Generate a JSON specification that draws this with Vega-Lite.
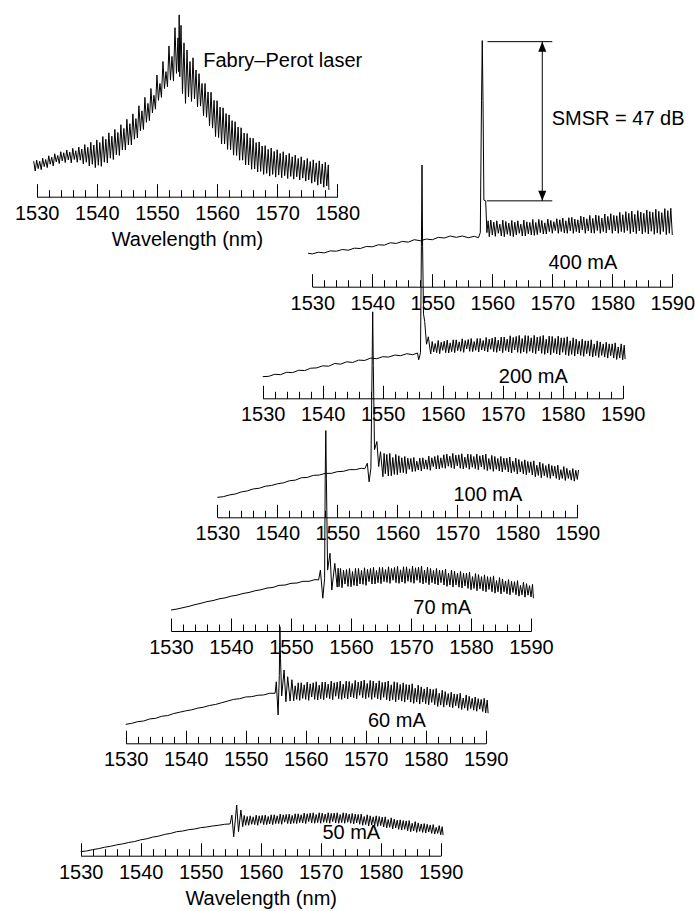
{
"$schema":"https://vega.github.io/schema/vega-lite/v6.json",
"width":695,"height":911,"autosize":{"type":"none"},"padding":0,
"config":{"view":{"stroke":null},
"axis":{"grid":false,"domainColor":"black","domainWidth":1,"tickColor":"black","tickWidth":1,"labelColor":"black","labelFont":"Liberation Sans","labelFontSize":20,"labelFlush":false,"labelOverlap":false,"labelBound":false,"titleFont":"Liberation Sans","titleFontSize":20,"titleFontWeight":"normal","titleColor":"black","titlePadding":0}},
"datasets":{
"fp":[{"w":1529.5,"v":10.5},{"w":1529.75,"v":7.6},{"w":1530.0,"v":10.8},{"w":1530.25,"v":8.3},{"w":1530.5,"v":10.5},{"w":1530.75,"v":8.0},{"w":1531.0,"v":11.4},{"w":1531.25,"v":8.9},{"w":1531.5,"v":11.0},{"w":1531.75,"v":8.6},{"w":1532.0,"v":12.1},{"w":1532.25,"v":9.6},{"w":1532.5,"v":11.7},{"w":1532.75,"v":9.1},{"w":1533.0,"v":12.7},{"w":1533.25,"v":10.3},{"w":1533.5,"v":12.2},{"w":1533.75,"v":9.8},{"w":1534.0,"v":13.3},{"w":1534.25,"v":10.6},{"w":1534.5,"v":13.0},{"w":1534.75,"v":10.1},{"w":1535.0,"v":13.8},{"w":1535.25,"v":10.9},{"w":1535.5,"v":13.2},{"w":1535.75,"v":10.0},{"w":1536.0,"v":14.3},{"w":1536.25,"v":11.0},{"w":1536.5,"v":13.6},{"w":1536.75,"v":10.2},{"w":1537.0,"v":14.7},{"w":1537.25,"v":10.8},{"w":1537.5,"v":14.1},{"w":1537.75,"v":9.7},{"w":1538.0,"v":15.4},{"w":1538.25,"v":10.2},{"w":1538.5,"v":14.6},{"w":1538.75,"v":9.1},{"w":1539.0,"v":16.1},{"w":1539.25,"v":9.6},{"w":1539.5,"v":15.3},{"w":1539.75,"v":8.6},{"w":1540.0,"v":16.8},{"w":1540.25,"v":9.3},{"w":1540.5,"v":16.0},{"w":1540.75,"v":9.0},{"w":1541.0,"v":17.8},{"w":1541.25,"v":10.2},{"w":1541.5,"v":17.0},{"w":1541.75,"v":10.0},{"w":1542.0,"v":18.9},{"w":1542.25,"v":11.4},{"w":1542.5,"v":17.9},{"w":1542.75,"v":11.0},{"w":1543.0,"v":19.9},{"w":1543.25,"v":12.4},{"w":1543.5,"v":19.0},{"w":1543.75,"v":12.2},{"w":1544.0,"v":21.3},{"w":1544.25,"v":13.8},{"w":1544.5,"v":20.2},{"w":1544.75,"v":13.8},{"w":1545.0,"v":22.9},{"w":1545.25,"v":15.3},{"w":1545.5,"v":21.6},{"w":1545.75,"v":15.3},{"w":1546.0,"v":24.5},{"w":1546.25,"v":17.0},{"w":1546.5,"v":23.1},{"w":1546.75,"v":17.4},{"w":1547.0,"v":26.9},{"w":1547.25,"v":19.5},{"w":1547.5,"v":25.4},{"w":1547.75,"v":19.9},{"w":1548.0,"v":29.4},{"w":1548.25,"v":22.0},{"w":1548.5,"v":27.6},{"w":1548.75,"v":22.5},{"w":1549.0,"v":32.0},{"w":1549.25,"v":24.8},{"w":1549.5,"v":30.0},{"w":1549.75,"v":25.9},{"w":1550.0,"v":36.0},{"w":1550.25,"v":28.5},{"w":1550.5,"v":33.5},{"w":1550.75,"v":29.4},{"w":1551.0,"v":40.0},{"w":1551.25,"v":32.0},{"w":1551.5,"v":37.0},{"w":1551.75,"v":32.5},{"w":1552.0,"v":44.6},{"w":1552.25,"v":34.5},{"w":1552.5,"v":41.5},{"w":1552.75,"v":34.2},{"w":1553.0,"v":50.0},{"w":1553.25,"v":36.5},{"w":1553.5,"v":47.0},{"w":1553.6,"v":37.0},{"w":1553.7,"v":53.8},{"w":1553.8,"v":35.5},{"w":1554.0,"v":50.7},{"w":1554.25,"v":30.5},{"w":1554.5,"v":45.5},{"w":1554.75,"v":27.6},{"w":1555.0,"v":43.4},{"w":1555.25,"v":29.5},{"w":1555.5,"v":40.0},{"w":1555.75,"v":28.2},{"w":1556.0,"v":41.1},{"w":1556.25,"v":28.9},{"w":1556.5,"v":37.5},{"w":1556.75,"v":26.6},{"w":1557.0,"v":36.4},{"w":1557.25,"v":26.8},{"w":1557.5,"v":33.5},{"w":1557.75,"v":24.0},{"w":1558.0,"v":33.5},{"w":1558.25,"v":23.5},{"w":1558.5,"v":31.0},{"w":1558.75,"v":21.0},{"w":1559.0,"v":30.9},{"w":1559.25,"v":20.3},{"w":1559.5,"v":28.5},{"w":1559.75,"v":17.8},{"w":1560.0,"v":28.4},{"w":1560.25,"v":17.5},{"w":1560.5,"v":26.5},{"w":1560.75,"v":15.6},{"w":1561.0,"v":26.3},{"w":1561.25,"v":15.6},{"w":1561.5,"v":24.6},{"w":1561.75,"v":14.0},{"w":1562.0,"v":24.2},{"w":1562.25,"v":13.9},{"w":1562.5,"v":22.5},{"w":1562.75,"v":12.3},{"w":1563.0,"v":22.2},{"w":1563.25,"v":12.2},{"w":1563.5,"v":20.6},{"w":1563.75,"v":10.8},{"w":1564.0,"v":20.4},{"w":1564.25,"v":10.8},{"w":1564.5,"v":18.8},{"w":1564.75,"v":9.4},{"w":1565.0,"v":18.7},{"w":1565.25,"v":9.4},{"w":1565.5,"v":17.4},{"w":1565.75,"v":8.1},{"w":1566.0,"v":17.3},{"w":1566.25,"v":8.2},{"w":1566.5,"v":16.0},{"w":1566.75,"v":7.3},{"w":1567.0,"v":16.2},{"w":1567.25,"v":7.5},{"w":1567.5,"v":15.0},{"w":1567.75,"v":6.6},{"w":1568.0,"v":15.1},{"w":1568.25,"v":6.9},{"w":1568.5,"v":14.0},{"w":1568.75,"v":6.1},{"w":1569.0,"v":14.4},{"w":1569.25,"v":6.6},{"w":1569.5,"v":13.4},{"w":1569.75,"v":5.8},{"w":1570.0,"v":13.9},{"w":1570.25,"v":6.4},{"w":1570.5,"v":12.8},{"w":1570.75,"v":5.6},{"w":1571.0,"v":13.3},{"w":1571.25,"v":6.2},{"w":1571.5,"v":12.3},{"w":1571.75,"v":5.4},{"w":1572.0,"v":12.8},{"w":1572.25,"v":6.0},{"w":1572.5,"v":11.8},{"w":1572.75,"v":5.2},{"w":1573.0,"v":12.3},{"w":1573.25,"v":5.9},{"w":1573.5,"v":11.3},{"w":1573.75,"v":5.0},{"w":1574.0,"v":11.8},{"w":1574.25,"v":5.5},{"w":1574.5,"v":10.8},{"w":1574.75,"v":4.6},{"w":1575.0,"v":11.3},{"w":1575.25,"v":5.0},{"w":1575.5,"v":10.4},{"w":1575.75,"v":4.0},{"w":1576.0,"v":10.9},{"w":1576.25,"v":4.4},{"w":1576.5,"v":10.0},{"w":1576.75,"v":3.4},{"w":1577.0,"v":10.6},{"w":1577.25,"v":3.8},{"w":1577.5,"v":9.7},{"w":1577.75,"v":2.8},{"w":1578.0,"v":10.2},{"w":1578.25,"v":3.2},{"w":1578.5,"v":9.4},{"w":1578.6,"v":2.0}],
"s400":[{"w":1529.3,"v":9.9},{"w":1530,"v":9.7},{"w":1531,"v":10.2},{"w":1532,"v":10.0},{"w":1533,"v":10.6},{"w":1534,"v":10.5},{"w":1535,"v":11.0},{"w":1536,"v":10.8},{"w":1537,"v":11.4},{"w":1538,"v":11.3},{"w":1539,"v":11.9},{"w":1540,"v":11.8},{"w":1541,"v":12.4},{"w":1542,"v":12.3},{"w":1543,"v":13.0},{"w":1544,"v":12.8},{"w":1545,"v":13.4},{"w":1546,"v":13.2},{"w":1547,"v":13.9},{"w":1548,"v":13.6},{"w":1549,"v":14.1},{"w":1550,"v":13.9},{"w":1551,"v":14.6},{"w":1552,"v":14.4},{"w":1553,"v":15.0},{"w":1554,"v":14.6},{"w":1555,"v":15.0},{"w":1556,"v":14.5},{"w":1557,"v":14.9},{"w":1557.7,"v":14.5},{"w":1558.0,"v":16.0},{"w":1558.2,"v":55},{"w":1558.33,"v":72.8},{"w":1558.45,"v":55},{"w":1558.6,"v":25.6},{"w":1558.9,"v":25.4},{"w":1559.1,"v":16.0},{"w":1559.3,"v":19.5},{"w":1559.5,"v":14.8},{"w":1559.75,"v":19.7},{"w":1560.0,"v":15.3},{"w":1560.25,"v":19.1},{"w":1560.5,"v":14.9},{"w":1560.75,"v":19.5},{"w":1561.0,"v":15.8},{"w":1561.25,"v":18.5},{"w":1561.5,"v":15.0},{"w":1561.75,"v":19.7},{"w":1562.0,"v":14.8},{"w":1562.25,"v":19.3},{"w":1562.5,"v":15.5},{"w":1562.75,"v":18.8},{"w":1563.0,"v":15.1},{"w":1563.25,"v":19.6},{"w":1563.5,"v":14.8},{"w":1563.75,"v":19.1},{"w":1564.0,"v":15.3},{"w":1564.25,"v":19.5},{"w":1564.5,"v":15.8},{"w":1564.75,"v":18.5},{"w":1565.0,"v":15.0},{"w":1565.25,"v":19.7},{"w":1565.5,"v":15.0},{"w":1565.75,"v":19.2},{"w":1566.0,"v":15.6},{"w":1566.25,"v":19.0},{"w":1566.5,"v":15.3},{"w":1566.75,"v":19.9},{"w":1567.0,"v":15.2},{"w":1567.25,"v":19.0},{"w":1567.5,"v":15.4},{"w":1567.75,"v":19.9},{"w":1568.0,"v":16.0},{"w":1568.25,"v":19.6},{"w":1568.5,"v":15.6},{"w":1568.75,"v":18.9},{"w":1569.0,"v":15.6},{"w":1569.25,"v":20.0},{"w":1569.5,"v":16.3},{"w":1569.75,"v":19.6},{"w":1570.0,"v":15.8},{"w":1570.25,"v":19.2},{"w":1570.5,"v":16.6},{"w":1570.75,"v":20.1},{"w":1571.0,"v":15.8},{"w":1571.25,"v":19.8},{"w":1571.5,"v":16.3},{"w":1571.75,"v":20.3},{"w":1572.0,"v":15.9},{"w":1572.25,"v":19.5},{"w":1572.5,"v":15.8},{"w":1572.75,"v":20.4},{"w":1573.0,"v":16.5},{"w":1573.25,"v":20.5},{"w":1573.5,"v":15.8},{"w":1573.75,"v":20.0},{"w":1574.0,"v":16.3},{"w":1574.25,"v":19.8},{"w":1574.5,"v":15.9},{"w":1574.75,"v":20.9},{"w":1575.0,"v":16.8},{"w":1575.25,"v":20.6},{"w":1575.5,"v":15.8},{"w":1575.75,"v":20.1},{"w":1576.0,"v":16.5},{"w":1576.25,"v":21.1},{"w":1576.5,"v":15.9},{"w":1576.75,"v":20.2},{"w":1577.0,"v":15.8},{"w":1577.25,"v":21.2},{"w":1577.5,"v":16.6},{"w":1577.75,"v":21.0},{"w":1578.0,"v":15.8},{"w":1578.25,"v":20.3},{"w":1578.5,"v":16.3},{"w":1578.75,"v":21.5},{"w":1579.0,"v":15.9},{"w":1579.25,"v":20.8},{"w":1579.5,"v":16.8},{"w":1579.75,"v":21.6},{"w":1580.0,"v":15.8},{"w":1580.25,"v":21.1},{"w":1580.5,"v":16.5},{"w":1580.75,"v":21.0},{"w":1581.0,"v":15.8},{"w":1581.25,"v":22.0},{"w":1581.5,"v":16.3},{"w":1581.75,"v":21.3},{"w":1582.0,"v":16.0},{"w":1582.25,"v":22.2},{"w":1582.5,"v":16.6},{"w":1582.75,"v":21.7},{"w":1583.0,"v":15.7},{"w":1583.25,"v":22.4},{"w":1583.5,"v":16.2},{"w":1583.75,"v":21.4},{"w":1584.0,"v":15.7},{"w":1584.25,"v":22.5},{"w":1584.5,"v":16.5},{"w":1584.75,"v":22.1},{"w":1585.0,"v":15.6},{"w":1585.25,"v":21.7},{"w":1585.5,"v":16.1},{"w":1585.75,"v":22.7},{"w":1586.0,"v":15.6},{"w":1586.25,"v":22.2},{"w":1586.5,"v":16.4},{"w":1586.75,"v":22.0},{"w":1587.0,"v":15.5},{"w":1587.25,"v":22.9},{"w":1587.5,"v":15.9},{"w":1587.75,"v":22.3},{"w":1588.0,"v":15.5},{"w":1588.25,"v":21.9},{"w":1588.5,"v":16.3},{"w":1588.75,"v":23.1},{"w":1589.0,"v":15.4},{"w":1589.25,"v":22.5},{"w":1589.5,"v":15.8},{"w":1589.75,"v":23.2},{"w":1590.0,"v":15.3}],
"s200":[{"w":1530,"v":6.4},{"w":1531,"v":6.5},{"w":1532,"v":7.1},{"w":1533,"v":7.0},{"w":1534,"v":7.7},{"w":1535,"v":7.6},{"w":1536,"v":8.3},{"w":1537,"v":8.2},{"w":1538,"v":8.9},{"w":1539,"v":9.0},{"w":1540,"v":9.6},{"w":1541,"v":9.5},{"w":1542,"v":10.3},{"w":1543,"v":10.1},{"w":1544,"v":10.8},{"w":1545,"v":10.6},{"w":1546,"v":11.3},{"w":1547,"v":11.2},{"w":1548,"v":11.9},{"w":1549,"v":11.7},{"w":1550,"v":12.3},{"w":1551,"v":12.2},{"w":1552,"v":12.8},{"w":1553,"v":12.6},{"w":1554,"v":13.2},{"w":1555,"v":12.9},{"w":1555.8,"v":13.4},{"w":1556.0,"v":11.4},{"w":1556.3,"v":13.5},{"w":1556.45,"v":45},{"w":1556.55,"v":69.0},{"w":1556.65,"v":45},{"w":1556.8,"v":25},{"w":1557.0,"v":22.7},{"w":1557.3,"v":16},{"w":1557.6,"v":18.2},{"w":1558.0,"v":13.1},{"w":1558.25,"v":16.8},{"w":1558.5,"v":13.7},{"w":1558.75,"v":16.2},{"w":1559.0,"v":13.5},{"w":1559.25,"v":17.1},{"w":1559.5,"v":13.2},{"w":1559.75,"v":16.6},{"w":1560.0,"v":14.2},{"w":1560.25,"v":16.9},{"w":1560.5,"v":13.5},{"w":1560.75,"v":17.2},{"w":1561.0,"v":13.4},{"w":1561.25,"v":16.4},{"w":1561.5,"v":13.8},{"w":1561.75,"v":17.3},{"w":1562.0,"v":13.5},{"w":1562.25,"v":17.3},{"w":1562.5,"v":14.1},{"w":1562.75,"v":16.7},{"w":1563.0,"v":13.9},{"w":1563.25,"v":17.6},{"w":1563.5,"v":13.6},{"w":1563.75,"v":17.1},{"w":1564.0,"v":14.6},{"w":1564.25,"v":17.4},{"w":1564.5,"v":13.9},{"w":1564.75,"v":17.7},{"w":1565.0,"v":13.8},{"w":1565.25,"v":16.8},{"w":1565.5,"v":14.2},{"w":1565.75,"v":17.7},{"w":1566.0,"v":13.7},{"w":1566.25,"v":17.7},{"w":1566.5,"v":14.3},{"w":1566.75,"v":17.1},{"w":1567.0,"v":14.0},{"w":1567.25,"v":18.0},{"w":1567.5,"v":13.7},{"w":1567.75,"v":17.5},{"w":1568.0,"v":14.5},{"w":1568.25,"v":17.8},{"w":1568.5,"v":13.8},{"w":1568.75,"v":18.1},{"w":1569.0,"v":13.6},{"w":1569.25,"v":17.2},{"w":1569.5,"v":14.0},{"w":1569.75,"v":18.1},{"w":1570.0,"v":13.5},{"w":1570.25,"v":18.1},{"w":1570.5,"v":14.1},{"w":1570.75,"v":17.5},{"w":1571.0,"v":13.7},{"w":1571.25,"v":18.5},{"w":1571.5,"v":13.4},{"w":1571.75,"v":18.0},{"w":1572.0,"v":14.3},{"w":1572.25,"v":18.3},{"w":1572.5,"v":13.6},{"w":1572.75,"v":18.6},{"w":1573.0,"v":13.3},{"w":1573.25,"v":17.7},{"w":1573.5,"v":13.7},{"w":1573.75,"v":18.6},{"w":1574.0,"v":13.3},{"w":1574.25,"v":18.5},{"w":1574.5,"v":13.9},{"w":1574.75,"v":17.9},{"w":1575.0,"v":13.5},{"w":1575.25,"v":18.6},{"w":1575.5,"v":13.2},{"w":1575.75,"v":18.1},{"w":1576.0,"v":14.0},{"w":1576.25,"v":18.3},{"w":1576.5,"v":13.3},{"w":1576.75,"v":18.6},{"w":1577.0,"v":13.0},{"w":1577.25,"v":17.5},{"w":1577.5,"v":13.4},{"w":1577.75,"v":18.4},{"w":1578.0,"v":12.9},{"w":1578.25,"v":18.3},{"w":1578.5,"v":13.5},{"w":1578.75,"v":17.7},{"w":1579.0,"v":13.1},{"w":1579.25,"v":18.4},{"w":1579.5,"v":12.8},{"w":1579.75,"v":17.9},{"w":1580.0,"v":13.6},{"w":1580.25,"v":17.9},{"w":1580.5,"v":12.9},{"w":1580.75,"v":18.2},{"w":1581.0,"v":12.6},{"w":1581.25,"v":17.0},{"w":1581.5,"v":13.0},{"w":1581.75,"v":17.9},{"w":1582.0,"v":12.5},{"w":1582.25,"v":17.5},{"w":1582.5,"v":13.1},{"w":1582.75,"v":16.9},{"w":1583.0,"v":12.7},{"w":1583.25,"v":17.5},{"w":1583.5,"v":12.4},{"w":1583.75,"v":17.0},{"w":1584.0,"v":13.2},{"w":1584.25,"v":17.0},{"w":1584.5,"v":12.5},{"w":1584.75,"v":17.3},{"w":1585.0,"v":12.2},{"w":1585.25,"v":16.1},{"w":1585.5,"v":12.6},{"w":1585.75,"v":17.0},{"w":1586.0,"v":12.1},{"w":1586.25,"v":16.7},{"w":1586.5,"v":12.7},{"w":1586.75,"v":16.1},{"w":1587.0,"v":12.2},{"w":1587.25,"v":16.6},{"w":1587.5,"v":11.9},{"w":1587.75,"v":16.1},{"w":1588.0,"v":12.6},{"w":1588.25,"v":16.1},{"w":1588.5,"v":11.9},{"w":1588.75,"v":16.4},{"w":1589.0,"v":11.5},{"w":1589.25,"v":15.2},{"w":1589.5,"v":11.9},{"w":1589.75,"v":16.1},{"w":1590.0,"v":11.4},{"w":1590.25,"v":15.7},{"w":1590.4,"v":11.6}],
"s100":[{"w":1530,"v":5.9},{"w":1531,"v":6.1},{"w":1532,"v":6.6},{"w":1533,"v":6.9},{"w":1534,"v":7.5},{"w":1535,"v":7.8},{"w":1536,"v":8.4},{"w":1537,"v":8.6},{"w":1538,"v":9.2},{"w":1539,"v":9.4},{"w":1540,"v":9.9},{"w":1541,"v":10.2},{"w":1542,"v":10.8},{"w":1543,"v":11.0},{"w":1544,"v":11.7},{"w":1545,"v":11.8},{"w":1546,"v":12.4},{"w":1547,"v":12.5},{"w":1548,"v":13.0},{"w":1549,"v":13.0},{"w":1550,"v":13.5},{"w":1551,"v":13.6},{"w":1552,"v":14.1},{"w":1553,"v":14.1},{"w":1554,"v":14.5},{"w":1554.6,"v":14.4},{"w":1555.0,"v":16.0},{"w":1555.3,"v":10.5},{"w":1555.6,"v":14.5},{"w":1555.8,"v":45},{"w":1555.9,"v":60.8},{"w":1556.0,"v":45},{"w":1556.2,"v":20},{"w":1556.6,"v":22.4},{"w":1556.9,"v":15},{"w":1557.2,"v":19.4},{"w":1557.6,"v":12.0},{"w":1557.8,"v":18.9},{"w":1558.0,"v":12.9},{"w":1558.25,"v":18.6},{"w":1558.5,"v":12.2},{"w":1558.75,"v":18.9},{"w":1559.0,"v":12.3},{"w":1559.25,"v":17.7},{"w":1559.5,"v":12.7},{"w":1559.75,"v":18.6},{"w":1560.0,"v":12.6},{"w":1560.25,"v":18.2},{"w":1560.5,"v":13.2},{"w":1560.75,"v":17.6},{"w":1561.0,"v":13.2},{"w":1561.25,"v":18.0},{"w":1561.5,"v":12.9},{"w":1561.75,"v":17.5},{"w":1562.0,"v":14.2},{"w":1562.25,"v":17.4},{"w":1562.5,"v":13.5},{"w":1562.75,"v":17.7},{"w":1563.0,"v":13.6},{"w":1563.25,"v":16.6},{"w":1563.5,"v":14.0},{"w":1563.75,"v":17.5},{"w":1564.0,"v":13.7},{"w":1564.25,"v":17.6},{"w":1564.5,"v":14.3},{"w":1564.75,"v":17.0},{"w":1565.0,"v":14.2},{"w":1565.25,"v":18.1},{"w":1565.5,"v":13.9},{"w":1565.75,"v":17.6},{"w":1566.0,"v":15.0},{"w":1566.25,"v":18.0},{"w":1566.5,"v":14.3},{"w":1566.75,"v":18.3},{"w":1567.0,"v":14.3},{"w":1567.25,"v":17.6},{"w":1567.5,"v":14.7},{"w":1567.75,"v":18.5},{"w":1568.0,"v":14.5},{"w":1568.25,"v":18.7},{"w":1568.5,"v":15.1},{"w":1568.75,"v":18.1},{"w":1569.0,"v":14.7},{"w":1569.25,"v":18.9},{"w":1569.5,"v":14.4},{"w":1569.75,"v":18.4},{"w":1570.0,"v":15.2},{"w":1570.25,"v":18.5},{"w":1570.5,"v":14.5},{"w":1570.75,"v":18.8},{"w":1571.0,"v":14.3},{"w":1571.25,"v":17.8},{"w":1571.5,"v":14.7},{"w":1571.75,"v":18.7},{"w":1572.0,"v":14.2},{"w":1572.25,"v":18.6},{"w":1572.5,"v":14.8},{"w":1572.75,"v":18.0},{"w":1573.0,"v":14.4},{"w":1573.25,"v":18.7},{"w":1573.5,"v":14.1},{"w":1573.75,"v":18.2},{"w":1574.0,"v":14.9},{"w":1574.25,"v":18.4},{"w":1574.5,"v":14.2},{"w":1574.75,"v":18.7},{"w":1575.0,"v":13.8},{"w":1575.25,"v":17.4},{"w":1575.5,"v":14.2},{"w":1575.75,"v":18.3},{"w":1576.0,"v":13.6},{"w":1576.25,"v":18.0},{"w":1576.5,"v":14.2},{"w":1576.75,"v":17.4},{"w":1577.0,"v":13.7},{"w":1577.25,"v":18.0},{"w":1577.5,"v":13.4},{"w":1577.75,"v":17.5},{"w":1578.0,"v":14.1},{"w":1578.25,"v":17.5},{"w":1578.5,"v":13.4},{"w":1578.75,"v":17.8},{"w":1579.0,"v":13.1},{"w":1579.25,"v":16.6},{"w":1579.5,"v":13.5},{"w":1579.75,"v":17.5},{"w":1580.0,"v":12.8},{"w":1580.25,"v":17.1},{"w":1580.5,"v":13.4},{"w":1580.75,"v":16.5},{"w":1581.0,"v":12.9},{"w":1581.25,"v":17.0},{"w":1581.5,"v":12.6},{"w":1581.75,"v":16.5},{"w":1582.0,"v":13.2},{"w":1582.25,"v":16.4},{"w":1582.5,"v":12.5},{"w":1582.75,"v":16.7},{"w":1583.0,"v":12.0},{"w":1583.25,"v":15.4},{"w":1583.5,"v":12.4},{"w":1583.75,"v":16.3},{"w":1584.0,"v":11.7},{"w":1584.25,"v":15.9},{"w":1584.5,"v":12.3},{"w":1584.75,"v":15.3},{"w":1585.0,"v":11.8},{"w":1585.25,"v":15.8},{"w":1585.5,"v":11.5},{"w":1585.75,"v":15.3},{"w":1586.0,"v":12.2},{"w":1586.25,"v":15.1},{"w":1586.5,"v":11.5},{"w":1586.75,"v":15.4},{"w":1587.0,"v":11.1},{"w":1587.25,"v":14.1},{"w":1587.5,"v":11.5},{"w":1587.75,"v":15.0},{"w":1588.0,"v":10.9},{"w":1588.25,"v":14.5},{"w":1588.5,"v":11.5},{"w":1588.75,"v":13.9},{"w":1589.0,"v":11.0},{"w":1589.25,"v":14.4},{"w":1589.5,"v":10.7},{"w":1589.75,"v":13.9},{"w":1590.0,"v":11.2},{"w":1590.2,"v":14.0}],
"s70":[{"w":1530,"v":6.2},{"w":1531,"v":6.5},{"w":1532,"v":6.9},{"w":1533,"v":7.3},{"w":1534,"v":7.8},{"w":1535,"v":8.2},{"w":1536,"v":8.7},{"w":1537,"v":9.0},{"w":1538,"v":9.5},{"w":1539,"v":9.8},{"w":1540,"v":10.3},{"w":1541,"v":10.6},{"w":1542,"v":11.1},{"w":1543,"v":11.4},{"w":1544,"v":11.9},{"w":1545,"v":12.2},{"w":1546,"v":12.7},{"w":1547,"v":12.9},{"w":1548,"v":13.5},{"w":1549,"v":13.6},{"w":1550,"v":14.1},{"w":1551,"v":14.2},{"w":1552,"v":14.7},{"w":1553,"v":14.7},{"w":1554,"v":15.2},{"w":1554.6,"v":15.1},{"w":1554.9,"v":18.0},{"w":1555.3,"v":9.7},{"w":1555.6,"v":15.5},{"w":1555.7,"v":45},{"w":1555.8,"v":59.3},{"w":1555.9,"v":45},{"w":1556.1,"v":18},{"w":1556.5,"v":23.0},{"w":1556.8,"v":12.1},{"w":1557.3,"v":20.0},{"w":1557.7,"v":13.0},{"w":1557.85,"v":18.6},{"w":1558.0,"v":13.1},{"w":1558.25,"v":18.5},{"w":1558.5,"v":12.8},{"w":1558.75,"v":18.0},{"w":1559.0,"v":13.9},{"w":1559.25,"v":18.2},{"w":1559.5,"v":13.2},{"w":1559.75,"v":18.5},{"w":1560.0,"v":13.1},{"w":1560.25,"v":17.6},{"w":1560.5,"v":13.5},{"w":1560.75,"v":18.5},{"w":1561.0,"v":13.3},{"w":1561.25,"v":18.5},{"w":1561.5,"v":13.9},{"w":1561.75,"v":17.9},{"w":1562.0,"v":13.8},{"w":1562.25,"v":18.7},{"w":1562.5,"v":13.5},{"w":1562.75,"v":18.2},{"w":1563.0,"v":14.6},{"w":1563.25,"v":18.5},{"w":1563.5,"v":13.9},{"w":1563.75,"v":18.8},{"w":1564.0,"v":13.9},{"w":1564.25,"v":17.9},{"w":1564.5,"v":14.3},{"w":1564.75,"v":18.8},{"w":1565.0,"v":14.0},{"w":1565.25,"v":18.8},{"w":1565.5,"v":14.6},{"w":1565.75,"v":18.2},{"w":1566.0,"v":14.4},{"w":1566.25,"v":19.0},{"w":1566.5,"v":14.1},{"w":1566.75,"v":18.5},{"w":1567.0,"v":15.0},{"w":1567.25,"v":18.8},{"w":1567.5,"v":14.3},{"w":1567.75,"v":19.1},{"w":1568.0,"v":14.1},{"w":1568.25,"v":18.1},{"w":1568.5,"v":14.5},{"w":1568.75,"v":19.0},{"w":1569.0,"v":14.1},{"w":1569.25,"v":19.0},{"w":1569.5,"v":14.7},{"w":1569.75,"v":18.4},{"w":1570.0,"v":14.4},{"w":1570.25,"v":19.2},{"w":1570.5,"v":14.1},{"w":1570.75,"v":18.7},{"w":1571.0,"v":15.0},{"w":1571.25,"v":18.9},{"w":1571.5,"v":14.3},{"w":1571.75,"v":19.2},{"w":1572.0,"v":13.9},{"w":1572.25,"v":18.0},{"w":1572.5,"v":14.3},{"w":1572.75,"v":18.9},{"w":1573.0,"v":13.7},{"w":1573.25,"v":18.5},{"w":1573.5,"v":14.3},{"w":1573.75,"v":17.9},{"w":1574.0,"v":13.9},{"w":1574.25,"v":18.5},{"w":1574.5,"v":13.6},{"w":1574.75,"v":18.0},{"w":1575.0,"v":14.3},{"w":1575.25,"v":18.0},{"w":1575.5,"v":13.6},{"w":1575.75,"v":18.3},{"w":1576.0,"v":13.2},{"w":1576.25,"v":17.1},{"w":1576.5,"v":13.6},{"w":1576.75,"v":18.0},{"w":1577.0,"v":13.0},{"w":1577.25,"v":17.7},{"w":1577.5,"v":13.6},{"w":1577.75,"v":17.1},{"w":1578.0,"v":13.0},{"w":1578.25,"v":17.6},{"w":1578.5,"v":12.7},{"w":1578.75,"v":17.1},{"w":1579.0,"v":13.3},{"w":1579.25,"v":17.1},{"w":1579.5,"v":12.6},{"w":1579.75,"v":17.4},{"w":1580.0,"v":12.2},{"w":1580.25,"v":16.1},{"w":1580.5,"v":12.6},{"w":1580.75,"v":17.0},{"w":1581.0,"v":11.9},{"w":1581.25,"v":16.7},{"w":1581.5,"v":12.5},{"w":1581.75,"v":16.1},{"w":1582.0,"v":11.9},{"w":1582.25,"v":16.6},{"w":1582.5,"v":11.6},{"w":1582.75,"v":16.1},{"w":1583.0,"v":12.3},{"w":1583.25,"v":16.0},{"w":1583.5,"v":11.6},{"w":1583.75,"v":16.3},{"w":1584.0,"v":11.2},{"w":1584.25,"v":14.9},{"w":1584.5,"v":11.6},{"w":1584.75,"v":15.8},{"w":1585.0,"v":11.0},{"w":1585.25,"v":15.4},{"w":1585.5,"v":11.6},{"w":1585.75,"v":14.8},{"w":1586.0,"v":11.0},{"w":1586.25,"v":15.2},{"w":1586.5,"v":10.7},{"w":1586.75,"v":14.7},{"w":1587.0,"v":11.4},{"w":1587.25,"v":14.6},{"w":1587.5,"v":10.7},{"w":1587.75,"v":14.9},{"w":1588.0,"v":10.3},{"w":1588.25,"v":13.5},{"w":1588.5,"v":10.7},{"w":1588.75,"v":14.4},{"w":1589.0,"v":10.0},{"w":1589.25,"v":14.0},{"w":1589.5,"v":10.6},{"w":1589.75,"v":13.4},{"w":1590.0,"v":10.1},{"w":1590.25,"v":13.8},{"w":1590.4,"v":9.7}],
"s60":[{"w":1530,"v":5.6},{"w":1531,"v":5.9},{"w":1532,"v":6.4},{"w":1533,"v":6.6},{"w":1534,"v":7.2},{"w":1535,"v":7.4},{"w":1536,"v":8.0},{"w":1537,"v":8.2},{"w":1538,"v":8.8},{"w":1539,"v":9.2},{"w":1540,"v":9.6},{"w":1541,"v":9.9},{"w":1542,"v":10.4},{"w":1543,"v":10.7},{"w":1544,"v":11.2},{"w":1545,"v":11.5},{"w":1546,"v":12.0},{"w":1547,"v":12.5},{"w":1548,"v":13.0},{"w":1549,"v":13.2},{"w":1550,"v":13.7},{"w":1551,"v":13.8},{"w":1552,"v":14.2},{"w":1553,"v":14.3},{"w":1554,"v":14.8},{"w":1554.9,"v":14.8},{"w":1555.1,"v":18.2},{"w":1555.4,"v":8.4},{"w":1555.6,"v":20},{"w":1555.7,"v":34.5},{"w":1555.8,"v":25},{"w":1556.0,"v":14},{"w":1556.4,"v":21.7},{"w":1556.7,"v":12.3},{"w":1557.0,"v":19.7},{"w":1557.4,"v":12.5},{"w":1557.7,"v":18.8},{"w":1558.0,"v":12.6},{"w":1558.25,"v":17.0},{"w":1558.5,"v":13.0},{"w":1558.75,"v":17.9},{"w":1559.0,"v":12.7},{"w":1559.25,"v":17.9},{"w":1559.5,"v":13.3},{"w":1559.75,"v":17.3},{"w":1560.0,"v":13.0},{"w":1560.25,"v":18.1},{"w":1560.5,"v":12.7},{"w":1560.75,"v":17.6},{"w":1561.0,"v":13.7},{"w":1561.25,"v":17.9},{"w":1561.5,"v":13.0},{"w":1561.75,"v":18.2},{"w":1562.0,"v":12.8},{"w":1562.25,"v":17.2},{"w":1562.5,"v":13.2},{"w":1562.75,"v":18.1},{"w":1563.0,"v":12.9},{"w":1563.25,"v":18.1},{"w":1563.5,"v":13.5},{"w":1563.75,"v":17.5},{"w":1564.0,"v":13.2},{"w":1564.25,"v":18.4},{"w":1564.5,"v":12.9},{"w":1564.75,"v":17.9},{"w":1565.0,"v":13.9},{"w":1565.25,"v":18.1},{"w":1565.5,"v":13.2},{"w":1565.75,"v":18.4},{"w":1566.0,"v":13.0},{"w":1566.25,"v":17.5},{"w":1566.5,"v":13.4},{"w":1566.75,"v":18.4},{"w":1567.0,"v":13.1},{"w":1567.25,"v":18.3},{"w":1567.5,"v":13.7},{"w":1567.75,"v":17.7},{"w":1568.0,"v":13.5},{"w":1568.25,"v":18.6},{"w":1568.5,"v":13.2},{"w":1568.75,"v":18.1},{"w":1569.0,"v":14.2},{"w":1569.25,"v":18.4},{"w":1569.5,"v":13.5},{"w":1569.75,"v":18.7},{"w":1570.0,"v":13.2},{"w":1570.25,"v":17.7},{"w":1570.5,"v":13.6},{"w":1570.75,"v":18.6},{"w":1571.0,"v":13.0},{"w":1571.25,"v":18.4},{"w":1571.5,"v":13.6},{"w":1571.75,"v":17.8},{"w":1572.0,"v":13.2},{"w":1572.25,"v":18.5},{"w":1572.5,"v":12.9},{"w":1572.75,"v":18.0},{"w":1573.0,"v":13.6},{"w":1573.25,"v":18.1},{"w":1573.5,"v":12.9},{"w":1573.75,"v":18.4},{"w":1574.0,"v":12.5},{"w":1574.25,"v":17.3},{"w":1574.5,"v":12.9},{"w":1574.75,"v":18.2},{"w":1575.0,"v":12.3},{"w":1575.25,"v":18.0},{"w":1575.5,"v":12.9},{"w":1575.75,"v":17.4},{"w":1576.0,"v":12.5},{"w":1576.25,"v":17.9},{"w":1576.5,"v":12.2},{"w":1576.75,"v":17.4},{"w":1577.0,"v":12.9},{"w":1577.25,"v":17.3},{"w":1577.5,"v":12.2},{"w":1577.75,"v":17.6},{"w":1578.0,"v":11.8},{"w":1578.25,"v":16.3},{"w":1578.5,"v":12.2},{"w":1578.75,"v":17.2},{"w":1579.0,"v":11.6},{"w":1579.25,"v":16.7},{"w":1579.5,"v":12.2},{"w":1579.75,"v":16.1},{"w":1580.0,"v":11.7},{"w":1580.25,"v":16.6},{"w":1580.5,"v":11.4},{"w":1580.75,"v":16.1},{"w":1581.0,"v":12.1},{"w":1581.25,"v":15.9},{"w":1581.5,"v":11.4},{"w":1581.75,"v":16.2},{"w":1582.0,"v":10.9},{"w":1582.25,"v":14.8},{"w":1582.5,"v":11.3},{"w":1582.75,"v":15.7},{"w":1583.0,"v":10.7},{"w":1583.25,"v":15.3},{"w":1583.5,"v":11.3},{"w":1583.75,"v":14.7},{"w":1584.0,"v":10.8},{"w":1584.25,"v":15.1},{"w":1584.5,"v":10.5},{"w":1584.75,"v":14.6},{"w":1585.0,"v":11.1},{"w":1585.25,"v":14.5},{"w":1585.5,"v":10.4},{"w":1585.75,"v":14.8},{"w":1586.0,"v":10.0},{"w":1586.25,"v":13.4},{"w":1586.5,"v":10.4},{"w":1586.75,"v":14.3},{"w":1587.0,"v":9.7},{"w":1587.25,"v":13.9},{"w":1587.5,"v":10.3},{"w":1587.75,"v":13.3},{"w":1588.0,"v":9.8},{"w":1588.25,"v":13.7},{"w":1588.5,"v":9.5},{"w":1588.75,"v":13.2},{"w":1589.0,"v":10.1},{"w":1589.25,"v":13.0},{"w":1589.5,"v":9.4},{"w":1589.75,"v":13.3},{"w":1590.0,"v":9.0},{"w":1590.25,"v":12.8},{"w":1590.4,"v":8.9}],
"s50":[{"w":1530,"v":1.2},{"w":1531,"v":1.4},{"w":1532,"v":1.8},{"w":1533,"v":2.1},{"w":1534,"v":2.5},{"w":1535,"v":2.8},{"w":1536,"v":3.2},{"w":1537,"v":3.5},{"w":1538,"v":3.9},{"w":1539,"v":4.2},{"w":1540,"v":4.7},{"w":1541,"v":5.0},{"w":1542,"v":5.5},{"w":1543,"v":5.8},{"w":1544,"v":6.3},{"w":1545,"v":6.6},{"w":1546,"v":7.1},{"w":1547,"v":7.3},{"w":1548,"v":7.7},{"w":1549,"v":7.9},{"w":1550,"v":8.3},{"w":1551,"v":8.5},{"w":1552,"v":8.8},{"w":1553,"v":9.0},{"w":1554,"v":9.3},{"w":1554.9,"v":9.4},{"w":1555.2,"v":12.0},{"w":1555.5,"v":5.6},{"w":1556.0,"v":15.0},{"w":1556.3,"v":7.1},{"w":1556.7,"v":13.5},{"w":1557.0,"v":8.6},{"w":1557.25,"v":11.9},{"w":1557.5,"v":9.0},{"w":1557.75,"v":11.6},{"w":1558.0,"v":9.0},{"w":1558.25,"v":11.8},{"w":1558.5,"v":9.3},{"w":1558.75,"v":11.5},{"w":1559.0,"v":9.2},{"w":1559.25,"v":12.0},{"w":1559.5,"v":9.0},{"w":1559.75,"v":11.8},{"w":1560.0,"v":9.6},{"w":1560.25,"v":11.9},{"w":1560.5,"v":9.2},{"w":1560.75,"v":12.0},{"w":1561.0,"v":9.2},{"w":1561.25,"v":11.6},{"w":1561.5,"v":9.4},{"w":1561.75,"v":12.1},{"w":1562.0,"v":9.2},{"w":1562.25,"v":12.1},{"w":1562.5,"v":9.5},{"w":1562.75,"v":11.8},{"w":1563.0,"v":9.5},{"w":1563.25,"v":12.3},{"w":1563.5,"v":9.3},{"w":1563.75,"v":12.1},{"w":1564.0,"v":9.9},{"w":1564.25,"v":12.2},{"w":1564.5,"v":9.5},{"w":1564.75,"v":12.3},{"w":1565.0,"v":9.4},{"w":1565.25,"v":11.9},{"w":1565.5,"v":9.6},{"w":1565.75,"v":12.4},{"w":1566.0,"v":9.5},{"w":1566.25,"v":12.4},{"w":1566.5,"v":9.8},{"w":1566.75,"v":12.1},{"w":1567.0,"v":9.7},{"w":1567.25,"v":12.6},{"w":1567.5,"v":9.5},{"w":1567.75,"v":12.4},{"w":1568.0,"v":10.1},{"w":1568.25,"v":12.6},{"w":1568.5,"v":9.7},{"w":1568.75,"v":12.7},{"w":1569.0,"v":9.6},{"w":1569.25,"v":12.2},{"w":1569.5,"v":9.8},{"w":1569.75,"v":12.7},{"w":1570.0,"v":9.6},{"w":1570.25,"v":12.6},{"w":1570.5,"v":9.9},{"w":1570.75,"v":12.3},{"w":1571.0,"v":9.8},{"w":1571.25,"v":12.7},{"w":1571.5,"v":9.6},{"w":1571.75,"v":12.5},{"w":1572.0,"v":10.1},{"w":1572.25,"v":12.6},{"w":1572.5,"v":9.7},{"w":1572.75,"v":12.7},{"w":1573.0,"v":9.6},{"w":1573.25,"v":12.2},{"w":1573.5,"v":9.8},{"w":1573.75,"v":12.7},{"w":1574.0,"v":9.6},{"w":1574.25,"v":12.6},{"w":1574.5,"v":9.9},{"w":1574.75,"v":12.3},{"w":1575.0,"v":9.6},{"w":1575.25,"v":12.5},{"w":1575.5,"v":9.4},{"w":1575.75,"v":12.3},{"w":1576.0,"v":9.7},{"w":1576.25,"v":12.2},{"w":1576.5,"v":9.3},{"w":1576.75,"v":12.3},{"w":1577.0,"v":9.0},{"w":1577.25,"v":11.6},{"w":1577.5,"v":9.2},{"w":1577.75,"v":12.1},{"w":1578.0,"v":8.8},{"w":1578.25,"v":11.8},{"w":1578.5,"v":9.1},{"w":1578.75,"v":11.5},{"w":1579.0,"v":8.9},{"w":1579.25,"v":11.8},{"w":1579.5,"v":8.7},{"w":1579.75,"v":11.6},{"w":1580.0,"v":8.9},{"w":1580.25,"v":11.4},{"w":1580.5,"v":8.5},{"w":1580.75,"v":11.5},{"w":1581.0,"v":8.2},{"w":1581.25,"v":10.7},{"w":1581.5,"v":8.4},{"w":1581.75,"v":11.2},{"w":1582.0,"v":7.9},{"w":1582.25,"v":10.8},{"w":1582.5,"v":8.2},{"w":1582.75,"v":10.5},{"w":1583.0,"v":7.8},{"w":1583.25,"v":10.6},{"w":1583.5,"v":7.6},{"w":1583.75,"v":10.4},{"w":1584.0,"v":7.8},{"w":1584.25,"v":10.3},{"w":1584.5,"v":7.4},{"w":1584.75,"v":10.4},{"w":1585.0,"v":7.1},{"w":1585.25,"v":9.6},{"w":1585.5,"v":7.3},{"w":1585.75,"v":10.1},{"w":1586.0,"v":6.9},{"w":1586.25,"v":9.7},{"w":1586.5,"v":7.2},{"w":1586.75,"v":9.4},{"w":1587.0,"v":6.9},{"w":1587.25,"v":9.5},{"w":1587.5,"v":6.7},{"w":1587.75,"v":9.3},{"w":1588.0,"v":7.0},{"w":1588.25,"v":9.1},{"w":1588.5,"v":6.6},{"w":1588.75,"v":9.2},{"w":1589.0,"v":6.4},{"w":1589.25,"v":8.4},{"w":1589.5,"v":6.6},{"w":1589.75,"v":8.9},{"w":1590.0,"v":6.2},{"w":1590.25,"v":8.6},{"w":1590.4,"v":6.1}]
},
"layer":[
{"encoding":{"x":{"field":"w","type":"quantitative","scale":{"domain":[1530,1580],"range":[36.7,337.3],"nice":false,"zero":false},"axis":{"orient":"bottom","offset":-714.3,"values":[1530,1532,1534,1536,1538,1540,1542,1544,1546,1548,1550,1552,1554,1556,1558,1560,1562,1564,1566,1568,1570,1572,1574,1576,1578,1580],"format":"d","labelExpr":"datum.value % 10 === 0 ? datum.label : ''","tickSize":{"condition":{"test":"datum.value % 10 === 0","value":-13},"value":-7},"labelPadding":19.5,"title":"Wavelength (nm)"}},
"y":{"field":"v","type":"quantitative","scale":{"domain":[0,90],"range":[196.7,-107.5],"nice":false,"zero":false},"axis":null}},
"layer":[
{"data":{"name":"fp"},"mark":{"type":"line","color":"black","strokeWidth":1}},
{"data":{"values":[{"w":1557.7,"v":40.1,"t":"Fabry–Perot laser"}]},"mark":{"type":"text","font":"Liberation Sans","fontSize":20,"align":"left","baseline":"middle","color":"black"},"encoding":{"text":{"field":"t"}}}
]},
{"encoding":{"x":{"field":"w","type":"quantitative","scale":{"domain":[1530,1590],"range":[312.3,672.3],"nice":false,"zero":false},"axis":{"orient":"bottom","offset":-624.3,"values":[1530,1532,1534,1536,1538,1540,1542,1544,1546,1548,1550,1552,1554,1556,1558,1560,1562,1564,1566,1568,1570,1572,1574,1576,1578,1580,1582,1584,1586,1588,1590],"format":"d","labelExpr":"datum.value % 10 === 0 ? datum.label : ''","tickSize":{"condition":{"test":"datum.value % 10 === 0","value":-13},"value":-7},"labelPadding":19.5,"title":null}},
"y":{"field":"v","type":"quantitative","scale":{"domain":[0,90],"range":[286.7,-17.5],"nice":false,"zero":false},"axis":null}},
"layer":[
{"data":{"name":"s400"},"mark":{"type":"line","color":"black","strokeWidth":1}},
{"data":{"values":[{"w":1575.1,"v":6.9,"t":"400 mA"}]},"mark":{"type":"text","font":"Liberation Sans","fontSize":20,"align":"center","baseline":"middle","color":"black"},"encoding":{"text":{"field":"t"}}},
{"data":{"values":[{"w":1569.9,"v":49.7,"t":"SMSR = 47 dB"}]},"mark":{"type":"text","font":"Liberation Sans","fontSize":20,"align":"left","baseline":"middle","color":"black"},"encoding":{"text":{"field":"t"}}},
{"data":{"values":[{"w":1559.2,"w2":1570.0,"v":72.5,"v2":72.5},{"w":1559.1,"w2":1570.0,"v":25.4,"v2":25.4},{"w":1568.33,"w2":1568.33,"v":25.4,"v2":72.5}]},"mark":{"type":"rule","color":"black","strokeWidth":1},"encoding":{"x2":{"field":"w2"},"y2":{"field":"v2"}}},
{"data":{"values":[{"w":1568.33,"v":71.0,"d":"up"},{"w":1568.33,"v":26.9,"d":"down"}]},"mark":{"type":"point","filled":true,"size":100,"color":"black","opacity":1},"encoding":{"shape":{"field":"d","type":"nominal","scale":{"domain":["up","down"],"range":["M0,-1L-0.8,1L0.8,1Z","M0,1L-0.8,-1L0.8,-1Z"]},"legend":null}}}
]},
{"encoding":{"x":{"field":"w","type":"quantitative","scale":{"domain":[1530,1590],"range":[262.7,622.7],"nice":false,"zero":false},"axis":{"orient":"bottom","offset":-512.7,"values":[1530,1532,1534,1536,1538,1540,1542,1544,1546,1548,1550,1552,1554,1556,1558,1560,1562,1564,1566,1568,1570,1572,1574,1576,1578,1580,1582,1584,1586,1588,1590],"format":"d","labelExpr":"datum.value % 10 === 0 ? datum.label : ''","tickSize":{"condition":{"test":"datum.value % 10 === 0","value":-13},"value":-7},"labelPadding":19.5,"title":null}},
"y":{"field":"v","type":"quantitative","scale":{"domain":[0,90],"range":[398.3,94.1],"nice":false,"zero":false},"axis":null}},
"layer":[
{"data":{"name":"s200"},"mark":{"type":"line","color":"black","strokeWidth":1}},
{"data":{"values":[{"w":1575.1,"v":6.2,"t":"200 mA"}]},"mark":{"type":"text","font":"Liberation Sans","fontSize":20,"align":"center","baseline":"middle","color":"black"},"encoding":{"text":{"field":"t"}}}
]},
{"encoding":{"x":{"field":"w","type":"quantitative","scale":{"domain":[1530,1590],"range":[217.3,577.3],"nice":false,"zero":false},"axis":{"orient":"bottom","offset":-393.7,"values":[1530,1532,1534,1536,1538,1540,1542,1544,1546,1548,1550,1552,1554,1556,1558,1560,1562,1564,1566,1568,1570,1572,1574,1576,1578,1580,1582,1584,1586,1588,1590],"format":"d","labelExpr":"datum.value % 10 === 0 ? datum.label : ''","tickSize":{"condition":{"test":"datum.value % 10 === 0","value":-13},"value":-7},"labelPadding":19.5,"title":null}},
"y":{"field":"v","type":"quantitative","scale":{"domain":[0,90],"range":[517.3,213.1],"nice":false,"zero":false},"axis":null}},
"layer":[
{"data":{"name":"s100"},"mark":{"type":"line","color":"black","strokeWidth":1}},
{"data":{"values":[{"w":1575.1,"v":6.7,"t":"100 mA"}]},"mark":{"type":"text","font":"Liberation Sans","fontSize":20,"align":"center","baseline":"middle","color":"black"},"encoding":{"text":{"field":"t"}}}
]},
{"encoding":{"x":{"field":"w","type":"quantitative","scale":{"domain":[1530,1590],"range":[171,531],"nice":false,"zero":false},"axis":{"orient":"bottom","offset":-280,"values":[1530,1532,1534,1536,1538,1540,1542,1544,1546,1548,1550,1552,1554,1556,1558,1560,1562,1564,1566,1568,1570,1572,1574,1576,1578,1580,1582,1584,1586,1588,1590],"format":"d","labelExpr":"datum.value % 10 === 0 ? datum.label : ''","tickSize":{"condition":{"test":"datum.value % 10 === 0","value":-13},"value":-7},"labelPadding":19.5,"title":null}},
"y":{"field":"v","type":"quantitative","scale":{"domain":[0,90],"range":[631,326.8],"nice":false,"zero":false},"axis":null}},
"layer":[
{"data":{"name":"s70"},"mark":{"type":"line","color":"black","strokeWidth":1}},
{"data":{"values":[{"w":1575.2,"v":6.7,"t":"70 mA"}]},"mark":{"type":"text","font":"Liberation Sans","fontSize":20,"align":"center","baseline":"middle","color":"black"},"encoding":{"text":{"field":"t"}}}
]},
{"encoding":{"x":{"field":"w","type":"quantitative","scale":{"domain":[1530,1590],"range":[125.7,485.7],"nice":false,"zero":false},"axis":{"orient":"bottom","offset":-167.7,"values":[1530,1532,1534,1536,1538,1540,1542,1544,1546,1548,1550,1552,1554,1556,1558,1560,1562,1564,1566,1568,1570,1572,1574,1576,1578,1580,1582,1584,1586,1588,1590],"format":"d","labelExpr":"datum.value % 10 === 0 ? datum.label : ''","tickSize":{"condition":{"test":"datum.value % 10 === 0","value":-13},"value":-7},"labelPadding":19.5,"title":null}},
"y":{"field":"v","type":"quantitative","scale":{"domain":[0,90],"range":[743.3,439.1],"nice":false,"zero":false},"axis":null}},
"layer":[
{"data":{"name":"s60"},"mark":{"type":"line","color":"black","strokeWidth":1}},
{"data":{"values":[{"w":1575.2,"v":6.7,"t":"60 mA"}]},"mark":{"type":"text","font":"Liberation Sans","fontSize":20,"align":"center","baseline":"middle","color":"black"},"encoding":{"text":{"field":"t"}}}
]},
{"encoding":{"x":{"field":"w","type":"quantitative","scale":{"domain":[1530,1590],"range":[80.7,440.7],"nice":false,"zero":false},"axis":{"orient":"bottom","offset":-55.3,"values":[1530,1532,1534,1536,1538,1540,1542,1544,1546,1548,1550,1552,1554,1556,1558,1560,1562,1564,1566,1568,1570,1572,1574,1576,1578,1580,1582,1584,1586,1588,1590],"format":"d","labelExpr":"datum.value % 10 === 0 ? datum.label : ''","tickSize":{"condition":{"test":"datum.value % 10 === 0","value":-13},"value":-7},"labelPadding":19.5,"title":"Wavelength (nm)"}},
"y":{"field":"v","type":"quantitative","scale":{"domain":[0,90],"range":[855.7,551.5],"nice":false,"zero":false},"axis":null}},
"layer":[
{"data":{"name":"s50"},"mark":{"type":"line","color":"black","strokeWidth":1}},
{"data":{"values":[{"w":1575.1,"v":6.7,"t":"50 mA"}]},"mark":{"type":"text","font":"Liberation Sans","fontSize":20,"align":"center","baseline":"middle","color":"black"},"encoding":{"text":{"field":"t"}}}
]}
],
"resolve":{"scale":{"x":"independent","y":"independent"},"axis":{"x":"independent","y":"independent"}}
}
